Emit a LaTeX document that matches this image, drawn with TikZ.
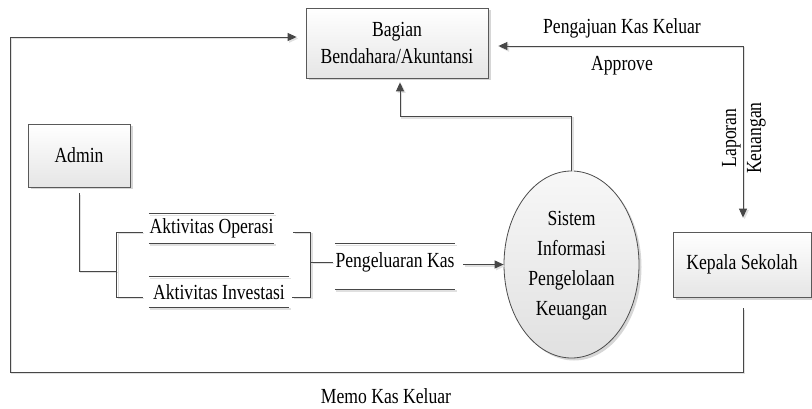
\documentclass[tikz,border=0pt]{standalone}
\usepackage{fontspec}
\setmainfont{Liberation Serif}[FakeStretch=0.82]
\usetikzlibrary{arrows.meta,shapes.geometric,shadows,calc}
\begin{document}
\begin{tikzpicture}[x=1pt,y=-1pt,
  font=\fontsize{21.5}{27}\selectfont,
  ln/.style={draw=black!72, line width=0.9pt},
  lnsh/.style={ln, preaction={draw=black!12, line width=1.4pt,
      transform canvas={shift={(1.6pt,-1.6pt)}}}},
  tip/.style={-{Triangle[length=9pt,width=8pt]}},
  tips/.style={{Triangle[length=9pt,width=8pt]}-{Triangle[length=9pt,width=8pt]}},
  ent/.style={draw=black!65, line width=0.8pt, top color=white, bottom color=black!10,
      align=center, inner sep=0pt,
      drop shadow={shadow xshift=2.5pt, shadow yshift=-2.5pt, fill=black!16, opacity=1}},
  proc/.style={ellipse, draw=black!70, line width=0.8pt, top color=black!3, bottom color=black!12,
      inner sep=0pt, minimum width=135pt, minimum height=187pt,
      drop shadow={shadow xshift=2.5pt, shadow yshift=-2.5pt, fill=black!16, opacity=1}},
  store/.style={inner sep=0pt}
]
\useasboundingbox (0,0) rectangle (812,409);

% external entities
\node[ent, minimum width=182pt, minimum height=70pt] (bag) at (397,43) {Bagian\\Bendahara/Akuntansi};
\node[ent, minimum width=102pt, minimum height=63pt] (admin) at (79,155.5) {Admin};
\node[ent, minimum width=138pt, minimum height=65pt] (kepala) at (742,264.5) {Kepala Sekolah};

% process
\node[proc] (sis) at (571.5,264.5) {};
\node[align=center, font=\fontsize{21.5}{30}\selectfont] (sistxt) at (571.5,266) {Sistem\\Informasi\\Pengelolaan\\Keuangan};

% data stores
\node[store, minimum width=125pt, minimum height=29pt] (ops) at (211.5,228.5) {Aktivitas Operasi};
\node[store, minimum width=140pt, minimum height=30pt] (inv) at (219,292) {Aktivitas Investasi};
\node[store, minimum width=120pt, minimum height=45pt, text depth=12pt] (pk) at (395,266.5) {Pengeluaran Kas};
\foreach \s in {ops,inv,pk}{
  \draw[lnsh] (\s.north west) -- (\s.north east);
  \draw[lnsh] (\s.south west) -- (\s.south east);
}

% flow labels
\node (pkk) at (622,28) {Pengajuan Kas Keluar};
\node (apr) at (622,66) {Approve};
\node[rotate=90, align=center, font=\fontsize{21.5}{25}\selectfont] (lap) at (744,138) {Laporan\\Keuangan};
\node (memo) at (386,396) {Memo Kas Keluar};

% Admin to the two activities
\coordinate (jl) at (117,271);
\draw[lnsh] ([yshift=-6pt]admin.south) |- (jl);
\draw[lnsh] ($(ops.west)+(-6,3.5)$) -| ($(inv.west)+(-32,5)$) -- ($(inv.west)+(-6,5)$);

% activities merge into Pengeluaran Kas
\coordinate (jr) at (310,262);
\draw[lnsh] ($(ops.east)+(19,3.5)$) -| ($(inv.east)+(21,5)$) -- ($(inv.east)+(3,5)$);
\draw[lnsh] (jr) -- ($(pk.west)+(-2,-4.5)$);

% Pengeluaran Kas into the system
\draw[lnsh,tip] ($(pk.east)+(8,-2)$) -- (sis.west);

% system up to Bagian Bendahara
\draw[lnsh,tip] (sis.north) -- ++(0,-54) -| ([xshift=3pt,yshift=-4pt]bag.south);

% Bagian Bendahara <-> Kepala Sekolah
\draw[lnsh,tips] ([xshift=10pt,yshift=-3pt]bag.east) -| ([xshift=1pt,yshift=14pt]kepala.north);

% Kepala Sekolah back around to Bagian Bendahara
\coordinate (lc) at (10,372);
\draw[lnsh,tip] ([xshift=1pt,yshift=-11pt]kepala.south) |- (lc) |- ([xshift=-9pt,yshift=6pt]bag.west);
\end{tikzpicture}
\end{document}
